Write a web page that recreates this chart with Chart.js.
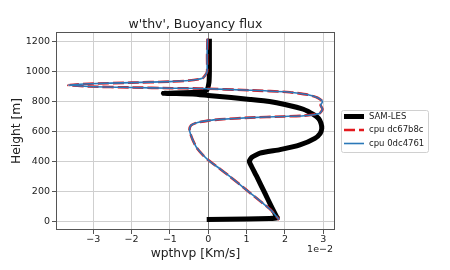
<!DOCTYPE html>
<html>
<head>
<meta charset="utf-8">
<script src="https://cdn.jsdelivr.net/npm/chart.js@4"></script>
<style>
  html, body { margin: 0; padding: 0; background: #fff; }
</style>
</head>
<body>
<canvas id="chart" width="450" height="270"></canvas>
<script>
// SAM-LES profile (flux in 1e-2 K m/s, height in m)
const samHeights = [1220, 1100, 1000, 930, 877, 862, 855, 850, 840, 826, 814, 800, 780, 748, 712, 685, 654, 620, 587, 553, 509, 478, 455, 425, 400, 370, 300, 185, 100, 30, 22, 17, 13, 10];
const samFlux = [0.03, 0.03, 0.03, 0.02, -0.04, -0.3, -1.17, -0.4, 0.0, 0.6, 1.09, 1.6, 2.0, 2.48, 2.75, 2.88, 2.94, 2.96, 2.92, 2.78, 2.39, 1.87, 1.35, 1.13, 1.07, 1.12, 1.26, 1.48, 1.64, 1.78, 1.8, 1.6, 1.0, -0.04];

// CLUBB runs (both commits give the same profile)
const cpuHeights = [1220, 1100, 1000, 975, 955, 940, 933, 926, 919, 910, 900, 894, 889, 887, 875, 862, 845, 825, 800, 775, 748, 720, 705, 700, 692, 680, 672, 658, 640, 610, 580, 540, 490, 445, 408, 350, 297, 207, 118, 70, 8];
const dc67b8cFlux = [-0.02, -0.03, -0.03, -0.08, -0.15, -0.5, -1.0, -2.0, -3.1, -3.65, -3.1, -2.0, -0.95, -0.2, 1.09, 2.13, 2.6, 2.85, 2.98, 2.93, 2.98, 2.9, 2.5, 1.96, 1.09, 0.3, 0.0, -0.3, -0.45, -0.49, -0.46, -0.4, -0.3, -0.15, 0.0, 0.3, 0.57, 1.0, 1.43, 1.65, 1.85];
const odc4761Flux = [-0.02, -0.03, -0.03, -0.08, -0.15, -0.5, -1.0, -2.0, -3.1, -3.65, -3.1, -2.0, -0.95, -0.2, 1.09, 2.13, 2.6, 2.85, 2.98, 2.93, 2.98, 2.9, 2.5, 1.96, 1.09, 0.3, 0.0, -0.3, -0.45, -0.49, -0.46, -0.4, -0.3, -0.15, 0.0, 0.3, 0.57, 1.0, 1.43, 1.65, 1.85];

const seriesNames = ['SAM-LES', 'cpu dc67b8c', 'cpu 0dc4761'];
const xTicks = [-3, -2, -1, 0, 1, 2, 3];
const yTicks = [0, 200, 400, 600, 800, 1000, 1200];

const FONT = "'DejaVu Sans', sans-serif";

function pairs(xs, ys) {
    return xs.map((x, i) => ({ x: x, y: ys[i] }));
}

function minusSign(v) {
    return v < 0 ? '\u2212' + Math.abs(v) : String(v);
}

// frame, offset text and legend, matplotlib style
const extras = {
    id: 'extras',
    afterDraw(chart) {
        const ctx = chart.ctx;
        const a = chart.chartArea;
        ctx.save();
        ctx.strokeStyle = '#555';
        ctx.lineWidth = 1;
        ctx.strokeRect(a.left + 0.5, a.top + 0.5, a.right - a.left - 1, a.bottom - a.top - 1);

        ctx.fillStyle = '#222';
        ctx.font = '9.5px ' + FONT;
        ctx.textAlign = 'right';
        ctx.textBaseline = 'middle';
        ctx.fillText('1e\u22122', a.right - 2, 250);

        // legend box
        const bx = 341, by = 110, bw = 87, bh = 42;
        ctx.fillStyle = 'rgba(255,255,255,0.8)';
        ctx.strokeStyle = '#d0d0d0';
        ctx.beginPath();
        ctx.roundRect(bx + 0.5, by + 0.5, bw, bh, 2);
        ctx.fill();
        ctx.stroke();

        const rows = [116.5, 130, 143.5];
        chart.data.datasets.forEach((ds, i) => {
            const y = rows[i];
            ctx.strokeStyle = ds.borderColor;
            ctx.lineWidth = ds.borderWidth;
            ctx.setLineDash(ds.borderDash || []);
            ctx.beginPath();
            ctx.moveTo(344, y);
            ctx.lineTo(364, y);
            ctx.stroke();
            ctx.setLineDash([]);
            ctx.fillStyle = '#222';
            ctx.font = '8.5px ' + FONT;
            ctx.textAlign = 'left';
            ctx.fillText(ds.label, 369, y);
        });
        ctx.restore();
    }
};

new Chart(document.getElementById('chart'), {
    type: 'scatter',
    data: {
        datasets: [
            {
                label: seriesNames[0],
                data: pairs(samFlux, samHeights),
                showLine: true,
                borderColor: '#000000',
                borderWidth: 5,
                pointRadius: 0,
                tension: 0.15,
                order: 3
            },
            {
                label: seriesNames[1],
                data: pairs(dc67b8cFlux, cpuHeights),
                showLine: true,
                borderColor: '#e3191e',
                borderWidth: 2.6,
                borderDash: [11, 4],
                pointRadius: 0,
                tension: 0.2,
                order: 2
            },
            {
                label: seriesNames[2],
                data: pairs(odc4761Flux, cpuHeights),
                showLine: true,
                borderColor: '#2b78b8',
                borderWidth: 1.6,
                pointRadius: 0,
                tension: 0.2,
                order: 1
            }
        ]
    },
    options: {
        responsive: false,
        animation: false,
        devicePixelRatio: 1,
        layout: { padding: { left: 0, right: 115, top: 0, bottom: 0 } },
        plugins: {
            legend: { display: false },
            tooltip: { enabled: false },
            title: {
                display: true,
                fullSize: false,
                text: "w'thv', Buoyancy flux",
                color: '#222',
                font: { family: FONT, size: 12.5, weight: 'normal', lineHeight: 1.2 },
                padding: { top: 17, bottom: 0 }
            }
        },
        scales: {
            x: {
                type: 'linear',
                min: -3.97,
                max: 3.305,
                afterFit: (s) => { s.height = 40; },
                afterBuildTicks: (s) => { s.ticks = xTicks.map(v => ({ value: v })); },
                ticks: {
                    includeBounds: false,
                    color: '#222',
                    padding: 1,
                    maxRotation: 0,
                    font: { family: FONT, size: 9.5, lineHeight: 1 },
                    callback: (v) => minusSign(v)
                },
                grid: {
                    color: (c) => (c.tick && c.tick.value === 0) ? '#808080' : '#cfcfcf',
                    lineWidth: 1,
                    tickLength: 4,
                    tickColor: '#555'
                },
                border: { display: false },
                title: {
                    display: true,
                    text: 'wpthvp [Km/s]',
                    color: '#222',
                    font: { family: FONT, size: 12.3 },
                    padding: { top: 0, bottom: 9 }
                }
            },
            y: {
                type: 'linear',
                min: -60,
                max: 1265,
                afterFit: (s) => { s.width = 56; },
                afterBuildTicks: (s) => { s.ticks = yTicks.map(v => ({ value: v })); },
                ticks: {
                    includeBounds: false,
                    color: '#222',
                    padding: 2,
                    font: { family: FONT, size: 9.5 },
                    callback: (v) => minusSign(v)
                },
                grid: {
                    color: '#cfcfcf',
                    lineWidth: 1,
                    tickLength: 4,
                    tickColor: '#555'
                },
                border: { display: false },
                title: {
                    display: true,
                    text: 'Height [m]',
                    color: '#222',
                    font: { family: FONT, size: 12.3 },
                    padding: { top: 9, bottom: 0 }
                }
            }
        }
    },
    plugins: [extras]
});
</script>
</body>
</html>
